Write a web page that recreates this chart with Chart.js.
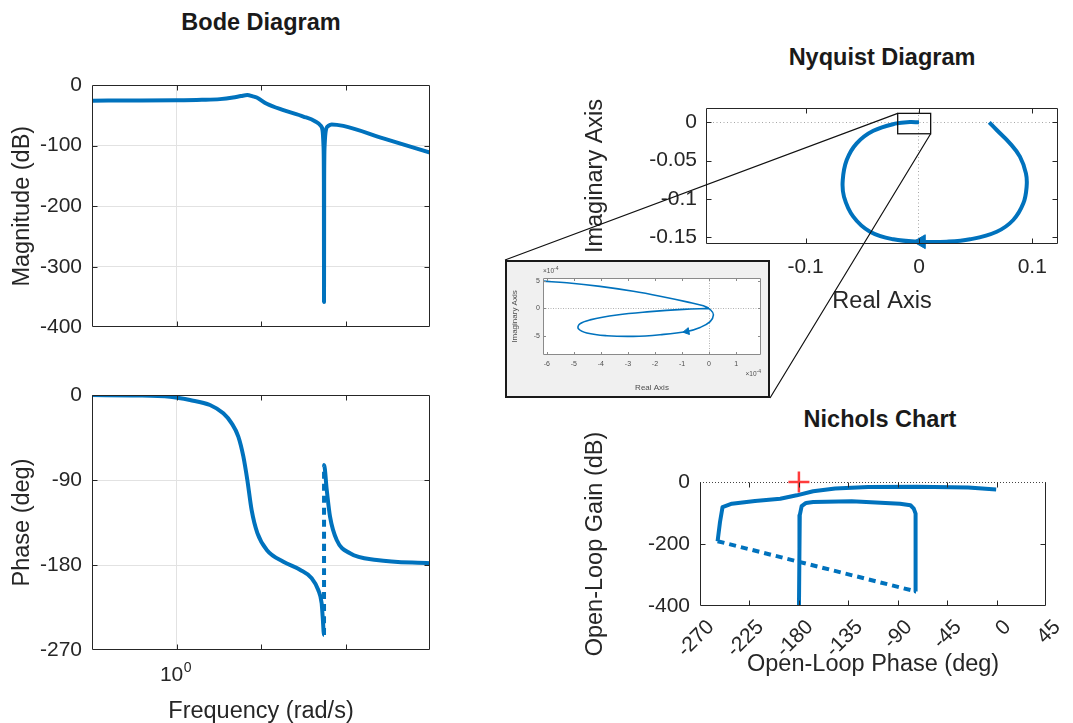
<!DOCTYPE html>
<html>
<head>
<meta charset="utf-8">
<title>Bode, Nyquist and Nichols plots</title>
<script src="https://cdn.jsdelivr.net/npm/chart.js@4.4.1/dist/chart.umd.min.js"></script>
<style>
  body { margin: 0; width: 1073px; height: 723px; overflow: hidden; background: #fff; position: relative;
         font-family: "Liberation Sans", Arial, Helvetica, sans-serif; }
  canvas { position: absolute; }
  .title { position: absolute; width: 400px; text-align: center; font-weight: bold;
           font-size: 23.5px; line-height: 28px; color: #1a1a1a; }
</style>
</head>
<body>
<div class="title" style="left:61px; top:8px">Bode Diagram</div>
<div class="title" style="left:682px; top:43px">Nyquist Diagram</div>
<div class="title" style="left:680px; top:405px">Nichols Chart</div>
<canvas id="magChart"></canvas>
<canvas id="phaseChart"></canvas>
<canvas id="nyquistChart"></canvas>
<canvas id="nicholsChart"></canvas>
<canvas id="insetChart" style="z-index:2"></canvas>
<canvas id="overlay" width="1073" height="723" style="left:0; top:0; z-index:3; pointer-events:none"></canvas>
<script>
const FONT = '"Liberation Sans", Arial, Helvetica, sans-serif';
const INK = '#262626';
const BLUE = '#0072BD';
const GRID = '#e2e2e2';

// Bode magnitude (rad/s, dB)
const magFreq = [0.1, 0.3, 1, 2, 3.27, 4.67, 5.8, 6.89, 8.0, 8.9, 11.7, 18.4, 31.7, 43.5, 50.8, 53.5, 54.9, 55.5, 55.7, 55.9, 56.6, 58.5, 62.7, 68.7, 94.3, 280, 1000];
const magDb = [-25.8, -25.7, -25.3, -24.5, -23.3, -20.7, -18.2, -16.6, -18.8, -20.7, -31, -41.5, -52, -59.7, -67, -75, -100, -160, -358, -160, -100, -75, -67.5, -65, -67.5, -88, -111.6];

// Bode phase (rad/s, deg)
const phaseFreq = [0.1, 0.3, 0.84, 1.44, 2.49, 3.58, 4.5, 5.39, 6.18, 6.89, 7.75, 9.04, 11.7, 18.4, 28.9, 39.8, 47.6, 52.2, 53.7, 55.7, 55.75, 60, 65.6, 78.7, 113, 234, 1000];
const phaseDeg = [0, -0.5, -1.8, -5.3, -10.6, -19.4, -30, -44, -65, -90, -122, -146, -164, -176.5, -185, -194, -206.5, -220.6, -234.7, -254, -74, -100.6, -128.8, -153.5, -167.6, -174.7, -178.2];

// Nyquist curve, positive frequencies
const nyqRe = [0.062, 0.0686, 0.0803, 0.0891, 0.0944, 0.095, 0.0921, 0.0832, 0.0686, 0.045, 0.0244, 0.0009, -0.0226, -0.0432, -0.058, -0.0662, -0.0673, -0.0638, -0.055, -0.0403, -0.0197, -0.008, 0];
const nyqIm = [0, -0.010, -0.0274, -0.0448, -0.0665, -0.084, -0.1057, -0.1274, -0.1427, -0.1526, -0.1557, -0.1557, -0.1526, -0.1427, -0.123, -0.097, -0.0753, -0.0492, -0.0274, -0.011, -0.0013, 0.0004, 0];
const nyqArrowRe = [0.002];
const nyqArrowIm = [-0.1557];
// region around the origin shown magnified
const zoomRe = [-0.0188, 0.0103];
const zoomIm = [-0.0149, 0.0117];

// magnified Nyquist detail, units of 1e-4
const insetRe = [-6.14, -5.26, -4.03, -2.80, -1.81, -0.82, -0.21, 0.06, 0.16, 0.04, -0.33, -0.82, -1.81, -2.80, -3.78, -4.52, -4.83, -4.79, -4.40, -3.41, -2.18, -0.95, 0];
const insetIm = [4.93, 4.64, 3.98, 3.09, 2.2, 1.18, 0.46, -0.3, -1.2, -2.39, -3.46, -4.18, -4.77, -5.07, -4.95, -4.46, -3.70, -2.86, -2.09, -1.2, -0.6, -0.18, 0];
const insetArrowRe = [-0.82];
const insetArrowIm = [-4.18];

// Nichols curve (deg, dB)
const nicPhase = [-0.5, -26, -73, -117, -147, -167, -182, -197, -220, -241, -249.5, -251.8, -254, -73.5, -73.5, -73.8, -74.2, -75.5, -78.5, -88, -132, -167, -173.5, -177.5, -179.2, -179.5, -180];
const nicGain = [-24.5, -18, -15, -16, -21, -30, -43, -54, -61, -70, -81, -129, -191, -353, -269, -161, -102, -86, -75, -70, -62, -64.5, -67.5, -78, -107, -215, -420];
const critPhase = [-180];
const critGain = [0];

// tick values
const freqTicks = [0.1, 1, 10, 100, 1000];
const magTicks = [-400, -300, -200, -100, 0];
const phaseTicks = [-270, -180, -90, 0];
const nyqReTicks = [-0.1, 0, 0.1];
const nyqImTicks = [-0.15, -0.1, -0.05, 0];
const nicPhaseTicks = [-270, -225, -180, -135, -90, -45, 0, 45];
const nicGainTicks = [-400, -200, 0];
const insetReTicks = [-6, -5, -4, -3, -2, -1, 0, 1];
const insetImTicks = [-5, 0, 5];

Chart.defaults.font.family = FONT;
Chart.defaults.color = INK;

const toXY = (xs, ys) => xs.map((v, i) => ({ x: v, y: ys[i] }));
const fixTicks = list => s => { s.ticks = list.map(v => ({ value: v })); };
const gridAt = (values, color) => c => (c.tick && values.includes(c.tick.value)) ? color : 'transparent';
const jumpIndex = ys => ys.findIndex((v, i) => i > 0 && Math.abs(v - ys[i - 1]) > 90) - 1;

// axes box with inward tick marks on all four sides
const frame = {
  id: 'frame',
  defaults: { color: INK, width: 1, tick: 5, openTop: false },
  afterDraw(chart, args, opts) {
    const { ctx, chartArea: a, scales: { x, y } } = chart;
    const L = Math.round(a.left) + 0.5, R = Math.round(a.right) - 0.5;
    const T = Math.round(a.top) + 0.5, B = Math.round(a.bottom) - 0.5;
    ctx.save();
    ctx.strokeStyle = opts.color;
    ctx.lineWidth = opts.width;
    ctx.beginPath();
    x.ticks.forEach(t => {
      const p = Math.round(x.getPixelForValue(t.value)) + 0.5;
      if (p <= L + 1 || p >= R - 1) return;
      ctx.moveTo(p, B); ctx.lineTo(p, B - opts.tick);
      ctx.moveTo(p, T); ctx.lineTo(p, T + opts.tick);
    });
    y.ticks.forEach(t => {
      const p = Math.round(y.getPixelForValue(t.value)) + 0.5;
      if (p <= T + 1 || p >= B - 1) return;
      ctx.moveTo(L, p); ctx.lineTo(L + opts.tick, p);
      ctx.moveTo(R, p); ctx.lineTo(R - opts.tick, p);
    });
    ctx.moveTo(L, T); ctx.lineTo(L, B); ctx.lineTo(R, B); ctx.lineTo(R, T);
    if (!opts.openTop) ctx.lineTo(L, T);
    ctx.stroke();
    ctx.restore();
  }
};
Chart.register(frame);

// place a canvas on the page and pin its plot area to the given edges
function makeChart(id, box, area, cfg) {
  const cv = document.getElementById(id);
  cv.width = box.w;
  cv.height = box.h;
  Object.assign(cv.style, { left: box.x + 'px', top: box.y + 'px', width: box.w + 'px', height: box.h + 'px' });
  const o = cfg.options;
  o.responsive = false;
  o.animation = false;
  o.events = [];
  o.devicePixelRatio = 1;
  o.layout = { padding: { top: area.t - box.y, right: box.x + box.w - area.r, left: 0, bottom: 0 } };
  o.scales.x.afterFit = s => { s.height = box.y + box.h - area.b; };
  o.scales.y.afterFit = s => { s.width = area.l - box.x; };
  o.plugins = Object.assign({ legend: { display: false }, tooltip: { enabled: false } }, o.plugins || {});
  return new Chart(cv, cfg);
}

const lineStyle = { borderColor: BLUE, borderWidth: 4, pointRadius: 0, borderJoinStyle: 'round', fill: false };
const tickFont = { size: 21 };
const labelFont = { size: 23.5 };

// ---- Bode magnitude ----
makeChart('magChart', { x: 0, y: 40, w: 440, h: 310 }, { l: 92, t: 85, r: 430, b: 342 }, {
  type: 'line',
  data: { datasets: [Object.assign({ data: toXY(magFreq, magDb), cubicInterpolationMode: 'monotone' }, lineStyle)] },
  options: {
    scales: {
      x: { type: 'logarithmic', min: 0.1, max: 1000, afterBuildTicks: fixTicks(freqTicks),
           ticks: { display: false }, grid: { color: gridAt([1], GRID), drawTicks: false }, border: { display: false } },
      y: { type: 'linear', min: -400, max: 0, afterBuildTicks: fixTicks(magTicks),
           ticks: { font: tickFont, padding: 10, callback: v => String(v) },
           grid: { color: gridAt([-100, -200, -300], GRID), drawTicks: false }, border: { display: false },
           title: { display: true, text: 'Magnitude (dB)', font: labelFont, color: INK, padding: { top: 8, bottom: 0 } } }
    }
  }
});

// "10^0" under the first decade line
const decadeLabel = {
  id: 'decadeLabel',
  afterDraw(chart) {
    const { ctx, scales: { x }, chartArea: a } = chart;
    const px = x.getPixelForValue(1);
    ctx.save();
    ctx.fillStyle = INK;
    ctx.textBaseline = 'middle';
    ctx.textAlign = 'left';
    ctx.font = `21px ${FONT}`;
    const w1 = ctx.measureText('10').width;
    ctx.font = `14px ${FONT}`;
    const w2 = ctx.measureText('0').width;
    const x0 = px - (w1 + w2) / 2 - 1;
    ctx.font = `21px ${FONT}`;
    ctx.fillText('10', x0, a.bottom + 25);
    ctx.font = `14px ${FONT}`;
    ctx.fillText('0', x0 + w1 + 0.5, a.bottom + 18);
    ctx.restore();
  }
};

// ---- Bode phase ----
const phaseJump = jumpIndex(phaseDeg);
makeChart('phaseChart', { x: 0, y: 360, w: 440, h: 370 }, { l: 92, t: 395, r: 430, b: 650 }, {
  type: 'line',
  data: { datasets: [Object.assign({
    data: toXY(phaseFreq, phaseDeg), cubicInterpolationMode: 'monotone',
    segment: { borderDash: c => c.p0DataIndex === phaseJump ? [7, 5] : undefined }
  }, lineStyle)] },
  options: {
    scales: {
      x: { type: 'logarithmic', min: 0.1, max: 1000, afterBuildTicks: fixTicks(freqTicks),
           ticks: { display: false }, grid: { color: gridAt([1], GRID), drawTicks: false }, border: { display: false },
           title: { display: true, text: 'Frequency (rad/s)', font: labelFont, color: INK, padding: { top: 0, bottom: 4 } } },
      y: { type: 'linear', min: -270, max: 0, afterBuildTicks: fixTicks(phaseTicks),
           ticks: { font: tickFont, padding: 10, callback: v => String(v) },
           grid: { color: gridAt([-90, -180], GRID), drawTicks: false }, border: { display: false },
           title: { display: true, text: 'Phase (deg)', font: labelFont, color: INK, padding: { top: 8, bottom: 0 } } }
    }
  },
  plugins: [decadeLabel]
});

// box marking the magnified region
const zoomRect = {
  id: 'zoomRect',
  afterDatasetsDraw(chart) {
    const { ctx, scales: { x, y } } = chart;
    const x0 = x.getPixelForValue(zoomRe[0]), x1 = x.getPixelForValue(zoomRe[1]);
    const y0 = y.getPixelForValue(zoomIm[1]), y1 = y.getPixelForValue(zoomIm[0]);
    ctx.save();
    ctx.strokeStyle = '#111';
    ctx.lineWidth = 1.3;
    ctx.strokeRect(x0, y0, x1 - x0, y1 - y0);
    ctx.restore();
  }
};

// ---- Nyquist ----
const nyqBox = { x: 575, y: 80, w: 498, h: 240 };
const nyqChart = makeChart('nyquistChart', nyqBox, { l: 706, t: 108, r: 1058, b: 244 }, {
  type: 'line',
  data: { datasets: [
    { data: toXY(nyqArrowRe, nyqArrowIm), showLine: false, pointStyle: 'triangle', pointRotation: 270, clip: false,
      pointRadius: 8, pointBackgroundColor: BLUE, pointBorderColor: BLUE, pointBorderWidth: 1 },
    Object.assign({ data: toXY(nyqRe, nyqIm), tension: 0.4 }, lineStyle)
  ] },
  options: {
    scales: {
      x: { type: 'linear', min: -0.188, max: 0.1227, afterBuildTicks: fixTicks(nyqReTicks),
           ticks: { font: tickFont, padding: 11, callback: v => String(v) },
           grid: { color: gridAt([0], 'rgba(0,0,0,0.35)'), drawTicks: false }, border: { display: false, dash: [1, 2.5] },
           title: { display: true, text: 'Real Axis', font: labelFont, color: INK, padding: { top: 0, bottom: 4 } } },
      y: { type: 'linear', min: -0.1587, max: 0.0187, afterBuildTicks: fixTicks(nyqImTicks),
           ticks: { font: tickFont, padding: 9, callback: v => String(v) },
           grid: { color: gridAt([0], 'rgba(0,0,0,0.35)'), drawTicks: false }, border: { display: false, dash: [1, 2.5] },
           title: { display: true, text: 'Imaginary Axis', font: labelFont, color: INK, padding: { top: 6, bottom: 0 } } }
    }
  },
  plugins: [zoomRect]
});

// ---- Nichols ----
const nicJump = jumpIndex(nicPhase);
makeChart('nicholsChart', { x: 575, y: 425, w: 498, h: 265 }, { l: 700, t: 482, r: 1058, b: 606 }, {
  type: 'line',
  data: { datasets: [
    { data: toXY(critPhase, critGain), showLine: false, pointStyle: 'cross', pointRadius: 10.5,
      pointBorderColor: '#ff3b3b', pointBorderWidth: 2.5, clip: false },
    Object.assign({ data: toXY(nicPhase, nicGain), tension: 0,
      segment: { borderDash: c => c.p0DataIndex === nicJump ? [7, 5] : undefined } }, lineStyle)
  ] },
  options: {
    plugins: { frame: { openTop: true } },
    scales: {
      x: { type: 'linear', min: -270, max: 45, afterBuildTicks: fixTicks(nicPhaseTicks),
           ticks: { font: tickFont, padding: 9, labelOffset: 11, minRotation: 45, maxRotation: 45, autoSkip: false, callback: v => String(v) },
           grid: { color: 'transparent', drawTicks: false }, border: { display: false },
           title: { display: true, text: 'Open-Loop Phase (deg)', font: labelFont, color: INK, padding: { top: 0, bottom: 11 } } },
      y: { type: 'linear', min: -400, max: 0, afterBuildTicks: fixTicks(nicGainTicks),
           ticks: { font: tickFont, padding: 10, callback: v => String(v) },
           grid: { color: gridAt([0], '#444'), drawTicks: false }, border: { display: false, dash: [1, 2] },
           title: { display: true, text: 'Open-Loop Gain (dB)', font: labelFont, color: INK, padding: { top: 6, bottom: 0 } } }
    }
  }
});

// ---- magnified Nyquist detail ----
const insetPaint = {
  id: 'insetPaint',
  beforeDraw(chart) {
    const { ctx, chartArea: a, width, height } = chart;
    ctx.save();
    ctx.fillStyle = '#f0f0f0';
    ctx.fillRect(0, 0, width, height);
    ctx.fillStyle = '#fff';
    ctx.fillRect(a.left, a.top, a.width, a.height);
    ctx.restore();
  },
  afterDraw(chart) {
    const { ctx, chartArea: a, width, height } = chart;
    ctx.save();
    ctx.strokeStyle = '#1a1a1a';
    ctx.lineWidth = 2;
    ctx.strokeRect(1, 1, width - 2, height - 2);
    // exponent notes for both axes
    ctx.fillStyle = '#4d4d4d';
    ctx.textBaseline = 'alphabetic';
    const expLabel = (xr, yb, alignRight) => {
      ctx.font = `6.5px ${FONT}`;
      const w1 = ctx.measureText('\u00d710').width;
      ctx.font = `5px ${FONT}`;
      const w2 = ctx.measureText('-4').width;
      const x0 = alignRight ? xr - w1 - w2 : xr;
      ctx.font = `6.5px ${FONT}`;
      ctx.fillText('\u00d710', x0, yb);
      ctx.font = `5px ${FONT}`;
      ctx.fillText('-4', x0 + w1, yb - 3);
    };
    expLabel(a.left, a.top - 5, false);
    expLabel(a.right, a.bottom + 21, true);
    ctx.restore();
  }
};

const insetBox = { x: 505, y: 260, w: 265, h: 138 };
makeChart('insetChart', insetBox, { l: 543, t: 278, r: 761, b: 355 }, {
  type: 'line',
  data: { datasets: [
    { data: toXY(insetRe, insetIm), borderColor: BLUE, borderWidth: 1.6, pointRadius: 0, tension: 0.4, fill: false },
    { data: toXY(insetArrowRe, insetArrowIm), showLine: false, pointStyle: 'triangle', pointRotation: 260,
      pointRadius: 4, pointBackgroundColor: BLUE, pointBorderColor: BLUE, pointBorderWidth: 1 }
  ] },
  options: {
    plugins: { frame: { color: '#8a8a8a', tick: 2.5 } },
    scales: {
      x: { type: 'linear', min: -6.14, max: 1.92, afterBuildTicks: fixTicks(insetReTicks),
           ticks: { font: { size: 7 }, color: '#4d4d4d', padding: 5, autoSkip: false, maxRotation: 0, callback: v => String(v) },
           grid: { color: gridAt([0], 'rgba(0,0,0,0.3)'), drawTicks: false }, border: { display: false, dash: [1, 1.5] },
           title: { display: true, text: 'Real Axis', font: { size: 8 }, color: '#4d4d4d', padding: { top: 0, bottom: 5 } } },
      y: { type: 'linear', min: -8.45, max: 5.5, afterBuildTicks: fixTicks(insetImTicks),
           ticks: { font: { size: 7 }, color: '#4d4d4d', padding: 3, callback: v => String(v) },
           grid: { color: gridAt([0], 'rgba(0,0,0,0.3)'), drawTicks: false }, border: { display: false, dash: [1, 1.5] },
           title: { display: true, text: 'Imaginary Axis', font: { size: 8 }, color: '#4d4d4d', padding: { top: 5, bottom: 0 } } }
    }
  },
  plugins: [insetPaint]
});

// connector lines from the zoom box to the detail panel
const oc = document.getElementById('overlay').getContext('2d');
const nx = nyqChart.scales.x, ny = nyqChart.scales.y;
oc.strokeStyle = '#111';
oc.lineWidth = 1.2;
oc.beginPath();
oc.moveTo(nyqBox.x + nx.getPixelForValue(zoomRe[0]), nyqBox.y + ny.getPixelForValue(zoomIm[1]));
oc.lineTo(insetBox.x, insetBox.y);
oc.moveTo(nyqBox.x + nx.getPixelForValue(zoomRe[1]), nyqBox.y + ny.getPixelForValue(zoomIm[0]));
oc.lineTo(insetBox.x + insetBox.w, insetBox.y + insetBox.h);
oc.stroke();
</script>
</body>
</html>
